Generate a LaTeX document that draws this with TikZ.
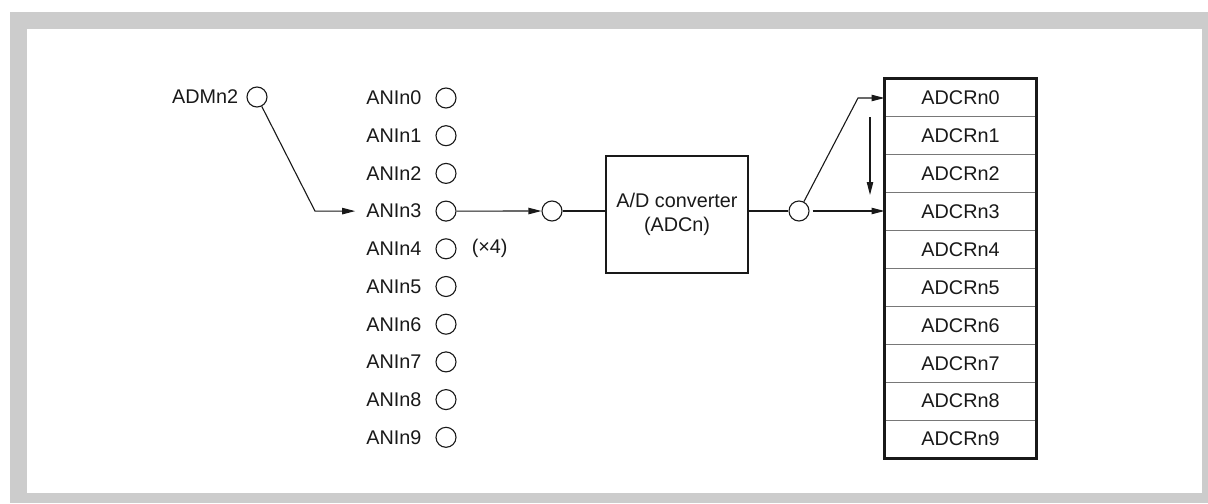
\documentclass[tikz,border=0pt]{standalone}
\usepackage{fontspec}
\setmainfont{Liberation Sans}
\usetikzlibrary{arrows.meta,positioning}
\definecolor{fg}{RGB}{25,25,25}
\definecolor{mu}{RGB}{120,120,120}
\definecolor{rahmen}{RGB}{204,204,204}
\tikzset{
  every picture/.style={fg, line width=0.55pt, >={Triangle[length=6.5pt,width=3.2pt]}},
  every node/.style={font=\fontsize{9.9}{12}\selectfont},
  % Anschlüsse
  pin/.style={circle, draw, line width=0.55pt, inner sep=0pt, minimum size=10pt},
  % Wandler
  conv/.style={draw, line width=1.1pt, minimum width=71pt, minimum height=58.5pt, align=center},
  % Ergebnisregister
  cell/.style={draw=mu, line width=0.5pt, minimum width=75.5pt, minimum height=18.95pt, inner sep=0pt},
}
\begin{document}
\begin{tikzpicture}[x=0.5pt, y=-0.5pt]
  \useasboundingbox (0,0) rectangle (1208,503);
  % Rahmen
  \fill[rahmen] (10,12) rectangle (1208,503);
  \fill[white] (27,29) rectangle (1202,493);
  % Eingänge
  \node[pin] (adm) at (257,97) {};
  \node[left=0.5pt of adm] (admlbl) {ADMn2};
  \foreach \i in {0,...,9} {
    \node[pin] (ani\i) at (446,{98+37.7*\i}) {};
    \node[left=3.4pt of ani\i] (anilbl\i) {ANIn\i};
  }
  \node[right=4pt of ani4] (anz) {(×4)};
  % Wandler
  \node[pin] (mux) at (552,211) {};
  \node[conv] (adc) at (677,214.5) {A/D converter\\(ADCn)};
  \node[pin] (out) at (799,211) {};
  % Register
  \foreach \i in {0,...,9}
    \node[cell] (reg\i) at (960.5,{97.95+37.9*\i}) {ADCRn\i};
  \draw[line width=1.1pt] (reg0.north west) rectangle (reg9.south east);
  % Verbindungen
  \coordinate (knick) at (315,211.1);
  \coordinate (knickb) at (858,98);
  \coordinate (sa) at (870,117);
  \coordinate (sb) at (870,195);
  \draw[->] (adm) -- (knick) -- ([xshift=-2pt]anilbl3.west);
  \draw[->] (ani3) -- (mux);
  \draw (mux) -- (mux -| adc.west);
  \draw (adc.east |- out) -- (out);
  \draw[->, shorten <=1.5pt] (out) -- (out -| reg3.west);
  \draw[->] (out) -- (knickb) -- (knickb -| reg0.west);
  \draw[->] (sa) -- (sb);
\end{tikzpicture}
\end{document}
